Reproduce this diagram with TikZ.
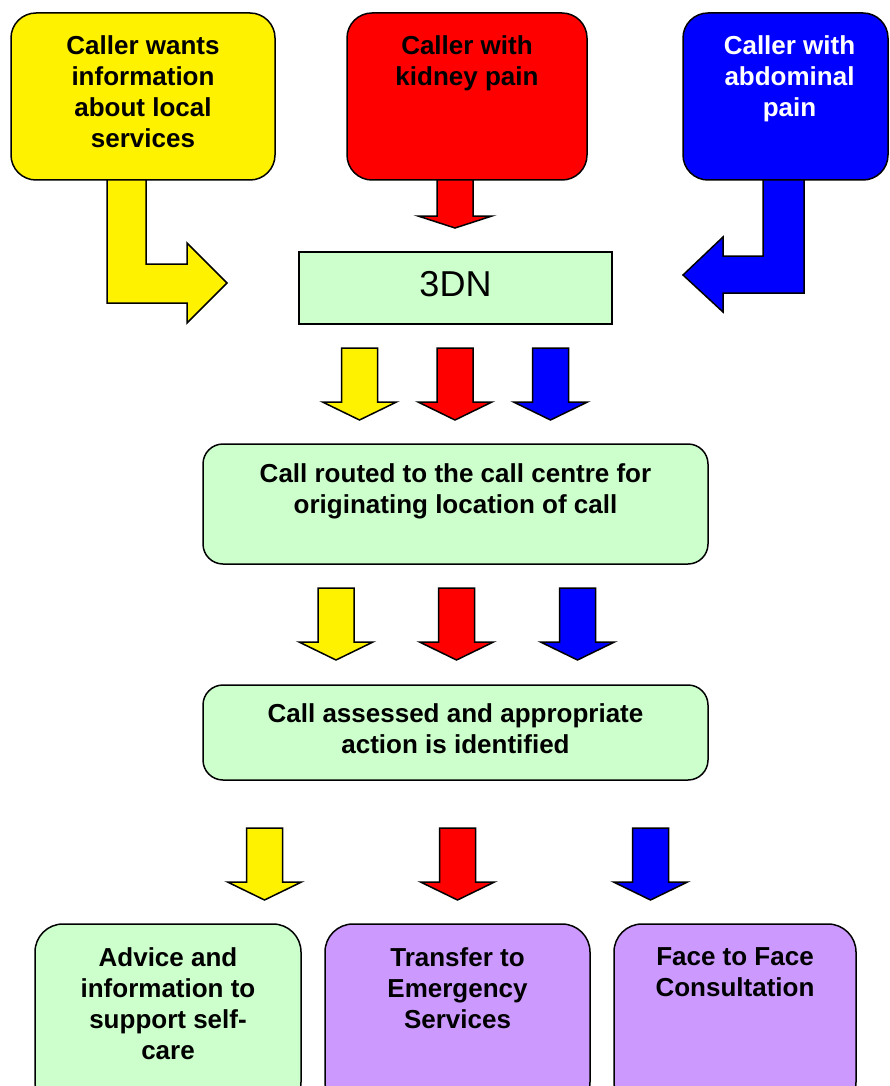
\documentclass[tikz,border=0pt]{standalone}
\usepackage{fontspec}
\setmainfont{Liberation Sans}
\definecolor{paleGreen}{HTML}{CCFFCC}
\definecolor{lilac}{HTML}{CC99FF}

% block arrow pointing down: [head length]{centre x}{top}{tip}{colour}
\newcommand{\blockdown}[5][18]{%
  \draw[blockarrow, fill=#5] (#2-18,#3) -- (#2+18,#3) -- (#2+18,#4-#1) -- (#2+37,#4-#1) -- (#2,#4) -- (#2-37,#4-#1) -- (#2-18,#4-#1) -- cycle;}

\begin{document}
\begin{tikzpicture}[x=1pt, y=-1pt, line width=1.5pt,
    callbox/.style={draw, rounded corners=#1, inner sep=0pt},
    callbox/.default=25pt,
    boxtext/.style={anchor=north, align=center, inner sep=0pt, font=\bfseries\fontsize{26}{31}\selectfont},
    blockarrow/.style={draw, line join=miter}]
        \useasboundingbox (0,0) rectangle (889,1086);

        % Callers
        \node (info) [callbox, fill=yellow, minimum width=264pt, minimum height=167pt,
            label={[boxtext, yshift=-23pt]north:Caller wants\\information\\about local\\services}] at (143,96.5) {};
        \node (kidney) [callbox, fill=red, minimum width=240pt, minimum height=167pt,
            label={[boxtext, yshift=-23pt]north:Caller with\\kidney pain}] at (467,96.5) {};
        \node (abdomen) [callbox, fill=blue, minimum width=205pt, minimum height=167pt,
            label={[boxtext, text=white, yshift=-23pt, xshift=4pt]north:Caller with\\abdominal\\pain}] at (785.5,96.5) {};

        % Routing
        \node (dn) [draw, fill=paleGreen, minimum width=313pt, minimum height=72pt, text depth=8pt,
            font=\fontsize{36}{43}\selectfont] at (455.5,288) {3DN};
        \node (routed) [callbox=20pt, fill=paleGreen, minimum width=505pt, minimum height=120pt,
            label={[boxtext, yshift=-20pt]north:Call routed to the call centre for\\originating location of call}] at (455.5,504) {};
        \node (assessed) [callbox=20pt, fill=paleGreen, minimum width=505pt, minimum height=95pt,
            label={[boxtext, yshift=-19pt]north:Call assessed and appropriate\\action is identified}] at (455.5,732.5) {};

        % Outcomes
        \node (advice) [callbox=28pt, fill=paleGreen, minimum width=266pt, minimum height=186pt,
            label={[boxtext, yshift=-24pt]north:Advice and\\information to\\support self-\\care}] at (168,1017) {};
        \node (transfer) [callbox=28pt, fill=lilac, minimum width=265pt, minimum height=186pt,
            label={[boxtext, yshift=-24pt]north:Transfer to\\Emergency\\Services}] at (457.5,1017) {};
        \node (face) [callbox=28pt, fill=lilac, minimum width=242pt, minimum height=186pt,
            label={[boxtext, yshift=-24pt]north:Face to Face\\Consultation}] at (735,1017) {};

        % Arrows into 3DN
        \draw[blockarrow, fill=yellow] (107,180) -- (146,180) -- (146,264) -- (187,264) -- (187,243)
            -- (227,283) -- (187,323) -- (187,303) -- (107,303) -- cycle;
        \blockdown[12]{455}{180}{228}{red}
        \draw[blockarrow, fill=blue] (763,180) -- (804,180) -- (804,293) -- (723,293) -- (723,312)
            -- (683,275) -- (723,237) -- (723,256) -- (763,256) -- cycle;

        % Arrows between stages
        \blockdown{359.5}{348}{420}{yellow}
        \blockdown{455}{348}{420}{red}
        \blockdown{550.5}{348}{420}{blue}

        \blockdown{336}{588}{660}{yellow}
        \blockdown{456.5}{588}{660}{red}
        \blockdown{577.5}{588}{660}{blue}

        \blockdown{264.5}{828}{900}{yellow}
        \blockdown{457.5}{828}{900}{red}
        \blockdown{650.5}{828}{900}{blue}
    \end{tikzpicture}
\end{document}
